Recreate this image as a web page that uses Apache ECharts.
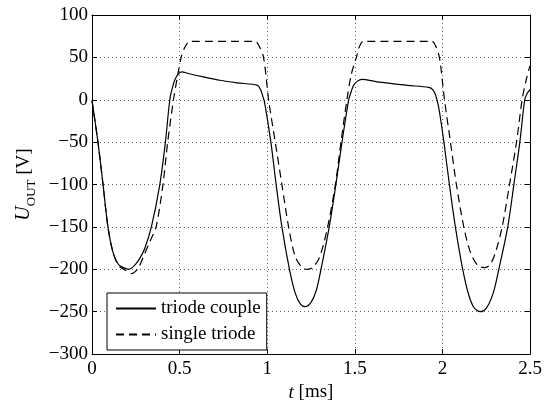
<!DOCTYPE html>
<html>
<head>
<meta charset="utf-8">
<script src="https://cdn.jsdelivr.net/npm/echarts@6/dist/echarts.min.js"></script>
<style>
html,body{margin:0;padding:0;background:#fff;}
#c{width:549px;height:407px;}
</style>
</head>
<body>
<div id="c"></div>
<script>
// time (ms) and voltage (V) for "triode couple"
var tTriode = [0, 0.034, 0.063, 0.091, 0.12, 0.15, 0.18, 0.21, 0.24, 0.27, 0.30, 0.339, 0.387, 0.419, 0.444, 0.46, 0.472, 0.49, 0.513, 0.55, 0.636, 0.73, 0.827, 0.945, 0.962, 0.975, 0.985, 1.021, 1.051, 1.084, 1.127, 1.16, 1.19, 1.217, 1.25, 1.28, 1.307, 1.354, 1.392, 1.427, 1.465, 1.48, 1.493, 1.515, 1.541, 1.62, 1.703, 1.80, 1.922, 1.945, 1.962, 1.978, 1.995, 2.01, 2.04, 2.074, 2.116, 2.15, 2.18, 2.217, 2.25, 2.29, 2.322, 2.373, 2.408, 2.442, 2.47, 2.485, 2.5];
var vTriode = [-1, -50, -100, -150, -180, -194, -198, -200, -196, -188, -176, -150, -100, -50, 0, 15, 23, 30, 33, 31, 27, 23, 20, 17, 12, 4, -3, -50, -100, -150, -200, -228, -241, -244, -239, -225, -200, -150, -100, -50, 0, 10, 17, 22, 24, 21.5, 19.3, 17, 14.7, 12, 5, -8, -30, -52, -100, -150, -200, -230, -245, -250, -246, -228, -200, -150, -100, -50, 0, 8, 12];

// time (ms) and voltage (V) for "single triode"
var tSingle = [0, 0.034, 0.063, 0.091, 0.12, 0.15, 0.19, 0.225, 0.262, 0.30, 0.335, 0.366, 0.405, 0.432, 0.465, 0.49, 0.509, 0.53, 0.56, 0.93, 0.95, 0.979, 1.008, 1.046, 1.084, 1.122, 1.16, 1.20, 1.23, 1.26, 1.30, 1.345, 1.389, 1.421, 1.455, 1.48, 1.509, 1.525, 1.55, 1.94, 1.96, 1.983, 2.012, 2.046, 2.08, 2.122, 2.16, 2.20, 2.236, 2.27, 2.30, 2.341, 2.383, 2.423, 2.455, 2.48, 2.5];
var vSingle = [-1, -50, -100, -150, -180, -195, -201, -205, -199, -182, -165, -150, -100, -50, 0, 30, 50, 62, 69, 69, 65, 50, 0, -50, -100, -150, -185, -198, -200, -198, -185, -150, -100, -50, 0, 30, 50, 62, 69, 69, 64, 50, 0, -50, -100, -150, -180, -195, -198, -195, -182, -150, -100, -50, 0, 25, 40];

var xTicks = [0, 0.5, 1, 1.5, 2, 2.5];
var yTicks = [-300, -250, -200, -150, -100, -50, 0, 50, 100];
var seriesNames = ['triode couple', 'single triode'];

function pairs(t, v) { return t.map(function (x, i) { return [x, v[i]]; }); }

var FONT = 'Liberation Serif';
var FS = 19;
var chart = echarts.init(document.getElementById('c'), null, { renderer: 'canvas' });

var gridLine = { show: true, lineStyle: { color: '#666', width: 1, type: [1, 3] } };
var axLine = { show: true, onZero: false, lineStyle: { color: '#000', width: 1 } };
var tick = { show: true, inside: true, length: 5, lineStyle: { color: '#000' } };

chart.setOption({
  animation: false,
  backgroundColor: '#fff',
  grid: { left: 92, right: 19, top: 15, bottom: 43, containLabel: false },
  legend: {
    left: 107, top: 293,
    orient: 'vertical',
    backgroundColor: '#fff',
    borderColor: '#000', borderWidth: 1,
    padding: [6, 6, 6, 8],
    itemWidth: 40, itemHeight: 14, itemGap: 7,
    itemStyle: { opacity: 0 },
    textStyle: { fontFamily: FONT, fontSize: FS, color: '#000', lineHeight: 14 },
    data: seriesNames
  },
  xAxis: [{
    type: 'value', min: xTicks[0], max: xTicks[xTicks.length - 1], interval: 0.5,
    axisLine: axLine, axisTick: tick, splitLine: gridLine,
    axisLabel: { fontFamily: FONT, fontSize: FS, color: '#000', margin: 5,
      formatter: function (v) { return String(v); } },
    name: '{i|t} [ms]', nameLocation: 'middle', nameGap: 23,
    nameTextStyle: { fontFamily: FONT, fontSize: FS, color: '#000',
      rich: { i: { fontFamily: FONT, fontSize: FS, fontStyle: 'italic', color: '#000' } } }
  }, {
    type: 'value', position: 'top', min: 0, max: 2.5, interval: 0.5,
    axisLine: axLine, axisTick: tick,
    splitLine: { show: false }, axisLabel: { show: false }
  }],
  yAxis: [{
    type: 'value', min: yTicks[0], max: yTicks[yTicks.length - 1], interval: 50,
    axisLine: axLine, axisTick: tick, splitLine: gridLine,
    axisLabel: { fontFamily: FONT, fontSize: FS, color: '#000', margin: 4,
      formatter: function (v) { return String(v).replace('-', '\u2212'); } },
    name: '{i|U}{s|OUT} [V]', nameLocation: 'middle', nameGap: 57, nameRotate: 90,
    nameTextStyle: { fontFamily: FONT, fontSize: FS, color: '#000', lineHeight: 22,
      rich: {
        i: { fontFamily: FONT, fontSize: 20, fontStyle: 'italic', color: '#000', lineHeight: 22 },
        s: { fontFamily: FONT, fontSize: 13, color: '#000', lineHeight: 12, verticalAlign: 'bottom', padding: [0, 0, -3, 0] }
      } }
  }, {
    type: 'value', position: 'right', min: -300, max: 100, interval: 50,
    axisLine: axLine, axisTick: tick,
    splitLine: { show: false }, axisLabel: { show: false }
  }],
  series: [{
    name: seriesNames[0], type: 'line', data: pairs(tTriode, vTriode),
    showSymbol: false, symbol: 'circle', symbolSize: 0, smooth: 0.3, color: '#000',
    lineStyle: { color: '#000', width: 1.2, type: 'solid' }
  }, {
    name: seriesNames[1], type: 'line', data: pairs(tSingle, vSingle),
    showSymbol: false, symbol: 'circle', symbolSize: 0, smooth: 0.3, color: '#000',
    lineStyle: { color: '#000', width: 1.2, type: [8, 5] }
  }]
});
</script>
</body>
</html>
